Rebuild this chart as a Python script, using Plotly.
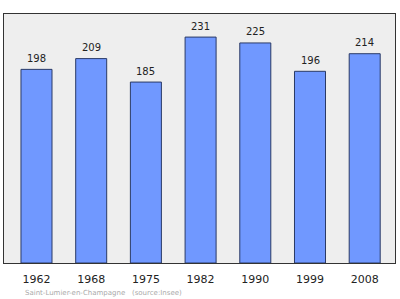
import plotly.graph_objects as go

years = ["1962", "1968", "1975", "1982", "1990", "1999", "2008"]
population = [198, 209, 185, 231, 225, 196, 214]

xpos = list(range(len(years)))

fig = go.Figure()
fig.add_trace(go.Bar(
    x=xpos, y=population, width=0.567,
    marker=dict(color="#7098ff", line=dict(color="#2a3a66", width=1)),
    hoverinfo="skip",
))
annotations = [dict(x=xi, y=v, xref="x", yref="y", text=str(v), showarrow=False,
                    yanchor="middle", yshift=11,
                    font=dict(family="DejaVu Sans", size=10, color="#222222"))
               for xi, v in zip(xpos, population)]
annotations.append(dict(text="Saint-Lumier-en-Champagne&nbsp;&nbsp;&nbsp;(source:Insee)",
                        xref="paper", yref="paper", x=(23-4)/391, y=(263-293)/249,
                        xanchor="left", yanchor="middle", showarrow=False,
                        font=dict(family="DejaVu Sans", size=7, color="#aaaaaa")))
fig.update_layout(
    width=400, height=299,
    margin=dict(l=4, r=5, t=14, b=36),
    paper_bgcolor="white", plot_bgcolor="#eeeeee",
    showlegend=False,
    xaxis=dict(range=[-0.594, 6.554], tickvals=xpos, ticktext=years,
               showgrid=False, zeroline=False, ticks="", ticklabelstandoff=6,
               tickfont=dict(family="DejaVu Sans", size=11, color="#222222"),
               showline=True, linecolor="#333333", linewidth=1, mirror=True),
    yaxis=dict(range=[0, 254.6], showgrid=False, zeroline=False,
               showticklabels=False, ticks="",
               showline=True, linecolor="#333333", linewidth=1, mirror=True),
    annotations=annotations,
)
fig.write_html("out.html")
